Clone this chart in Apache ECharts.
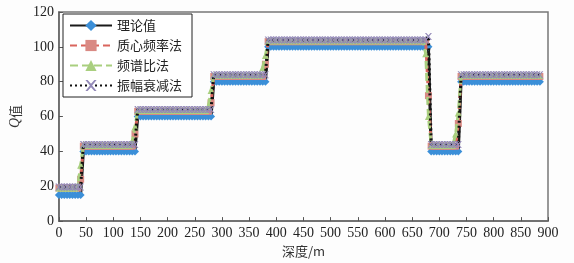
<!DOCTYPE html>
<html>
<head>
<meta charset="utf-8">
<script src="https://cdn.jsdelivr.net/npm/echarts@6/dist/echarts.min.js"></script>
<style>
  html, body { margin: 0; padding: 0; background: #fff; }
  #QChart { width: 574px; height: 263px; }
</style>
</head>
<body>
<div id="QChart"></div>
<script>
// 深度采样 (m)
const depthStart = 0;
const depthEnd = 885;
const depthStep = 5;

// 各层起始深度
const layerStarts = [0, 45, 145, 285, 385, 685, 740];

// 各方法的层 Q 值
const theoryLevels = [15, 40, 60, 80, 100, 40, 80];
const centroidLevels = [19, 43, 63, 83, 103, 43, 83];
const spectralLevels = [19, 43.5, 63.5, 83.5, 103.5, 43.5, 83.5];
const attenuationLevels = [19.5, 44, 64, 84, 104, 44, 84];

// 界面附近的过渡值
const theoryEdges = {};
const centroidEdges = { 40: 24, 140: 50, 280: 68, 380: 90, 680: 72, 735: 56 };
const spectralEdges = { 35: 21, 40: 32, 135: 46, 140: 54, 275: 66, 280: 75, 375: 88, 380: 95, 675: 96, 680: 60, 730: 50, 735: 62 };
const attenuationEdges = { 680: 106 };

const xTicks = { min: 0, max: 900, interval: 50 };
const yTicks = { min: 0, max: 120, interval: 20 };

const depths = [];
for (let d = depthStart; d <= depthEnd; d += depthStep) depths.push(d);

const buildData = (levels, edges) => depths.map(d => {
  if (edges[d] !== undefined) return [d, edges[d]];
  let idx = 0;
  layerStarts.forEach((s, i) => { if (d >= s) idx = i; });
  return [d, levels[idx]];
});

const serif = "'Liberation Serif', 'DejaVu Serif', serif";
const cjk = "'Noto Sans CJK SC', sans-serif";
const xMark = 'path://M0,0 L2,0 L5,3.5 L8,0 L10,0 L6,5 L10,10 L8,10 L5,6.5 L2,10 L0,10 L4,5 Z';

const myChart = echarts.init(document.getElementById('QChart'));

const option = {
  backgroundColor: '#fdfdfd',
  animation: false,
  grid: { left: 55, right: 26, top: 12, bottom: 36, show: true, borderColor: '#777', borderWidth: 1.5 },
  legend: {
    left: 63,
    top: 14,
    orient: 'vertical',
    itemGap: 7,
    itemWidth: 42,
    itemHeight: 14,
    padding: [5, 10, 5, 6],
    borderColor: '#222',
    borderWidth: 1,
    backgroundColor: '#fff',
    textStyle: { fontSize: 13, color: '#222', fontFamily: cjk },
    data: ['理论值', '质心频率法', '频谱比法', '振幅衰减法']
  },
  xAxis: {
    type: 'value',
    min: xTicks.min,
    max: xTicks.max,
    interval: xTicks.interval,
    name: '深度/m',
    nameLocation: 'middle',
    nameGap: 20,
    nameTextStyle: { fontSize: 13, color: '#333', fontFamily: cjk },
    axisLine: { onZero: false, lineStyle: { color: '#666', width: 1.5 } },
    axisTick: { inside: true, length: 4, lineStyle: { color: '#555' } },
    axisLabel: { fontSize: 14, color: '#222', margin: 5, fontFamily: serif },
    splitLine: { show: false }
  },
  yAxis: {
    type: 'value',
    min: yTicks.min,
    max: yTicks.max,
    interval: yTicks.interval,
    name: '{q|Q}值',
    nameLocation: 'middle',
    nameGap: 31,
    nameRotate: 90,
    nameTextStyle: {
      fontSize: 13, color: '#333', fontFamily: cjk,
      rich: { q: { fontStyle: 'italic', fontSize: 14, fontFamily: serif, color: '#333' } }
    },
    axisLine: { show: true, lineStyle: { color: '#666', width: 1.5 } },
    axisTick: { inside: true, length: 4, lineStyle: { color: '#555' } },
    axisLabel: { fontSize: 14, color: '#222', margin: 5, fontFamily: serif },
    splitLine: { show: false }
  },
  series: [
    {
      name: '理论值',
      type: 'line',
      data: buildData(theoryLevels, theoryEdges),
      symbol: 'diamond',
      symbolSize: 8,
      showAllSymbol: true,
      lineStyle: { color: '#1a1a1a', width: 3 },
      itemStyle: { color: '#3b8fd8', borderWidth: 0 },
      z: 2
    },
    {
      name: '质心频率法',
      type: 'line',
      data: buildData(centroidLevels, centroidEdges),
      symbol: 'rect',
      symbolSize: 7,
      showAllSymbol: true,
      lineStyle: { color: '#d9655d', width: 3, type: [7, 4] },
      itemStyle: { color: '#d98a84', borderWidth: 0 },
      z: 3
    },
    {
      name: '频谱比法',
      type: 'line',
      data: buildData(spectralLevels, spectralEdges),
      symbol: 'triangle',
      symbolSize: 7,
      showAllSymbol: true,
      lineStyle: { color: '#a9cf7f', width: 3, type: [8, 4] },
      itemStyle: { color: '#a9cf7f', borderWidth: 0 },
      z: 4
    },
    {
      name: '振幅衰减法',
      type: 'line',
      data: buildData(attenuationLevels, attenuationEdges),
      symbol: xMark,
      symbolSize: 7,
      showAllSymbol: true,
      lineStyle: { color: '#111', width: 3, type: [2, 3] },
      itemStyle: { color: '#9389b8', borderWidth: 0 },
      z: 5
    }
  ]
};

myChart.setOption(option);
</script>
</body>
</html>
